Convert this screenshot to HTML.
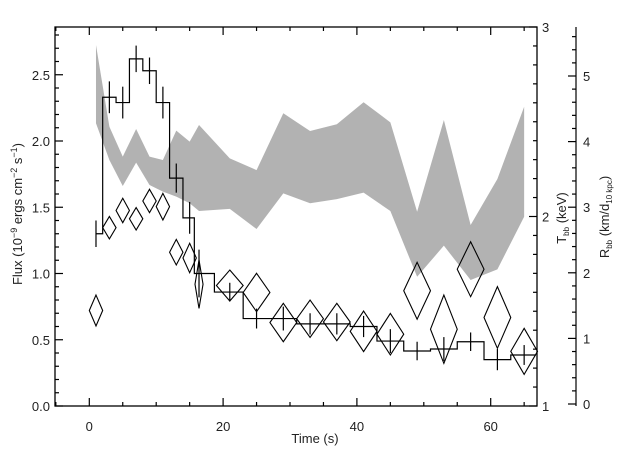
<!DOCTYPE html>
<html><head><meta charset="utf-8"><style>
html,body{margin:0;padding:0;background:#fff;}
svg{display:block;font-family:"Liberation Sans",sans-serif;}
</style></head><body>
<svg id="chart" width="640" height="457" viewBox="0 0 640 457" xmlns="http://www.w3.org/2000/svg">
<g id="band"></g>
<g id="flux"></g>
<g id="radius"></g>
<g id="axes"></g>
</svg>
<script>
const times = [1,3,5,7,9,11,13,15,16.4,21,25,29,33,37,41,45,49,53,57,61,65];
const halfBins = [1,1,1,1,1,1,1,1,0.6,2,2,2,2,2,2,2,2,2,2,2,2];
const fluxValues = [1.30,2.33,2.29,2.62,2.53,2.29,1.72,1.42,1.00,0.86,0.66,0.66,0.62,0.62,0.60,0.49,0.415,0.43,0.485,0.35,0.385];
const fluxErrors = [0.10,0.12,0.12,0.10,0.10,0.12,0.11,0.12,0.18,0.07,0.075,0.09,0.08,0.08,0.08,0.09,0.07,0.09,0.07,0.08,0.075];
const tempUpper = [2.905,2.474,2.316,2.462,2.316,2.298,2.453,2.395,2.483,2.307,2.245,2.545,2.451,2.487,2.603,2.497,2.025,2.509,1.955,2.198,2.579];
const tempLower = [2.492,2.298,2.161,2.284,2.166,2.131,2.105,2.07,2.029,2.04,1.934,2.122,2.07,2.092,2.126,2.029,1.682,1.846,1.665,1.721,1.999];
const radiusValues = [1.425,2.688,2.950,2.823,3.095,3.008,2.314,2.226,1.826,1.806,1.700,1.242,1.300,1.250,1.108,1.064,1.726,1.140,2.055,1.319,0.803];
const radiusErrors = [0.236,0.171,0.186,0.171,0.178,0.203,0.195,0.224,0.369,0.236,0.293,0.293,0.285,0.285,0.309,0.317,0.434,0.521,0.419,0.470,0.351];
const xTicks = [0,20,40,60];
const fluxTicks = ["0.0","0.5","1.0","1.5","2.0","2.5"];
const tempTicks = ["1","2","3"];
const radiusTicks = ["0","1","2","3","4","5"];

const NS="http://www.w3.org/2000/svg";
const L=55,R=537,T=27,B=406;
const xS=t=>89.3+6.69*t;
const yF=v=>406-132.5*v;
const yT=v=>406-189.5*(v-1);
const yR=v=>404-65.6*v;
function mk(tag,parent,attrs){const e=document.createElementNS(NS,tag);for(const k in attrs)e.setAttribute(k,attrs[k]);parent.appendChild(e);return e;}
const band=document.getElementById('band'),flux=document.getElementById('flux'),rad=document.getElementById('radius'),axes=document.getElementById('axes');

// band
let pts=[];
times.forEach((t,i)=>pts.push(xS(t)+','+yT(tempUpper[i])));
for(let i=times.length-1;i>=0;i--)pts.push(xS(times[i])+','+yT(tempLower[i]));
const poly=mk('polygon',band,{points:pts.join(' '),fill:'#b2b2b2',stroke:'none'});



// flux step histogram
let d='';
times.forEach((t,i)=>{
  const x0=i===0?xS(t):xS((times[i-1]+t)/2);
  const x1=i===times.length-1?R-1:xS((t+times[i+1])/2);
  const y=yF(fluxValues[i]);
  d+=(i===0?'M':'L')+x0+','+y+'L'+x1+','+y;
});
const step=mk('path',flux,{d:d,fill:'none',stroke:'#000','stroke-width':1.2});


times.forEach((t,i)=>{
  const x=xS(t);
  const eb=mk('line',flux,{x1:x,x2:x,y1:yF(fluxValues[i]+fluxErrors[i]),y2:yF(fluxValues[i]-fluxErrors[i]),stroke:'#000','stroke-width':1.2});
  
  
});

// radius diamonds
times.forEach((t,i)=>{
  const x=xS(t),y=yR(radiusValues[i]),hh=radiusErrors[i]*65.6,hw=halfBins[i]*6.69;
  const dm=mk('polygon',rad,{points:`${x},${y-hh} ${x+hw},${y} ${x},${y+hh} ${x-hw},${y}`,fill:'none',stroke:'#000','stroke-width':1.1});
  
  
});

// axes frame
const fr=mk('rect',axes,{x:L,y:T,width:R-L,height:B-T,fill:'none',stroke:'#000','stroke-width':1.3});


function ln(x1,y1,x2,y2,name){const e=mk('line',axes,{x1,y1,x2,y2,stroke:'#000','stroke-width':1.2});return e;}
function tx(x,y,s,name,anchor){const e=mk('text',axes,{x,y,'font-size':13,fill:'#222','text-anchor':anchor||'middle'});e.textContent=s;return e;}
// x ticks
for(let t=-5;t<=66;t+=5){const x=xS(t);if(x<L||x>R)continue;const len=t%20===0?8:4;ln(x,B,x,B-len,'x-tick');ln(x,T,x,T+len,'x-tick-top');}
xTicks.forEach(v=>tx(xS(v),431,String(v),'x-tick-label'));
// left ticks
for(let k=0;k<=28;k++){const y=yF(k/10);const len=k%5===0?8:4;ln(L,y,L+len,y,'flux-tick');}
fluxTicks.forEach(s=>tx(50,yF(parseFloat(s))+5,s,'flux-tick-label','end'));
// T ticks
for(let k=10;k<=30;k++){const y=yT(k/10);const len=k%10===0?8:4;ln(R,y,R-len,y,'temp-tick');}
tempTicks.forEach(s=>tx(542,yT(parseFloat(s))+5,s,'temp-tick-label','start'));
// R axis
ln(576,T,576,B,'radius-axis-line');
for(let k=0;k<=28;k++){const y=yR(k/5);if(y<T)continue;const len=k%5===0?8:4;ln(576,y,576-len,y,'radius-tick');}
radiusTicks.forEach(s=>tx(583,yR(parseFloat(s))+5,s,'radius-tick-label','start'));
// titles
tx(315,443,'Time (s)','x-axis-title');
const yt=mk('text',axes,{x:0,y:0,'font-size':13,fill:'#222','text-anchor':'middle',transform:'translate(22,214) rotate(-90)'});


yt.innerHTML='Flux (10<tspan dy="-5" font-size="9">−9</tspan><tspan dy="5"> ergs cm</tspan><tspan dy="-5" font-size="9">−2</tspan><tspan dy="5"> s</tspan><tspan dy="-5" font-size="9">−1</tspan><tspan dy="5">)</tspan>';
const tt=mk('text',axes,{x:0,y:0,'font-size':13,fill:'#222','text-anchor':'middle',transform:'translate(566,218) rotate(-90)'});


tt.innerHTML='T<tspan dy="3" font-size="8">bb</tspan><tspan dy="-3"> (keV)</tspan>';
const rt=mk('text',axes,{x:0,y:0,'font-size':13,fill:'#222','text-anchor':'middle',transform:'translate(609,217) rotate(-90)'});


rt.innerHTML='R<tspan dy="3" font-size="8">bb</tspan><tspan dy="-3"> (km/d</tspan><tspan dy="3" font-size="8">10 kpc</tspan><tspan dy="-3">)</tspan>';
</script>
</body></html>
